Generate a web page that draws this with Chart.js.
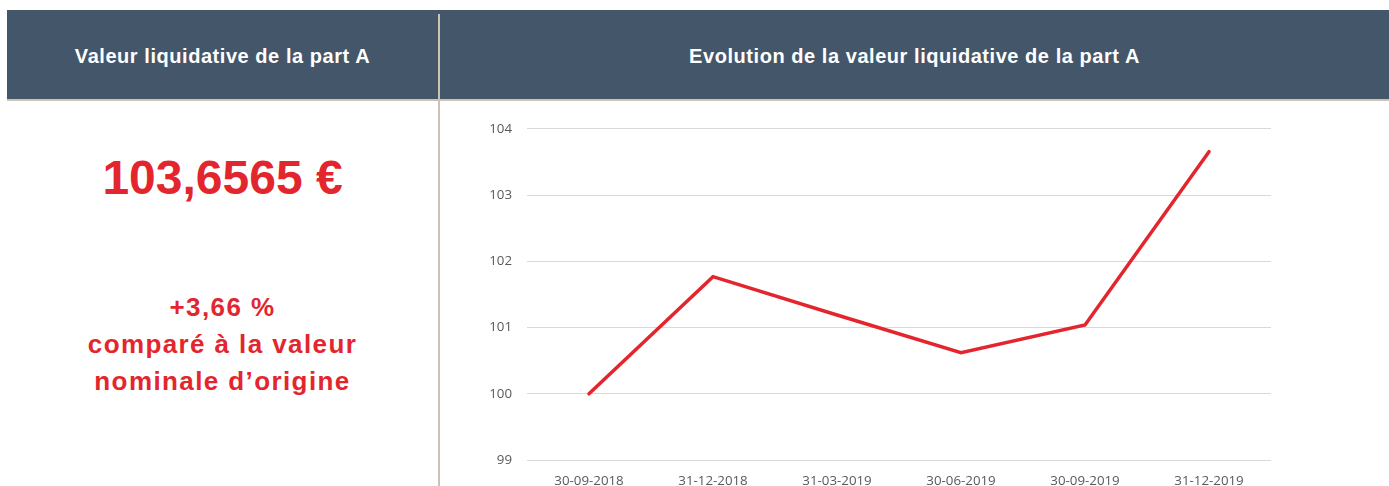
<!DOCTYPE html>
<html>
<head>
<meta charset="utf-8">
<script src="https://cdn.jsdelivr.net/npm/chart.js@4/dist/chart.umd.min.js"></script>
<style>
  html, body { margin: 0; padding: 0; background: #ffffff; }
  body { width: 1389px; height: 486px; position: relative; overflow: hidden; font-family: "Liberation Sans", Arial, sans-serif; }
  .header { position: absolute; left: 7px; top: 10px; width: 1382px; height: 89px; background: #44566a; }
  .hline { position: absolute; left: 7px; top: 99px; width: 1382px; height: 2px; background: #cbc3b4; }
  .vline { position: absolute; left: 438px; top: 14px; width: 2px; height: 472px; background: #cbc3b4; }
  .title { position: absolute; top: 46px; height: 20px; line-height: 20px; font-size: 20px; font-weight: bold; color: #ffffff; text-align: center; letter-spacing: 0.55px; white-space: nowrap; }
  .big { position: absolute; left: 7px; width: 431px; top: 154px; font-size: 48px; line-height: 48px; font-weight: bold; color: #e3262e; text-align: center; white-space: nowrap; }
  .sub { position: absolute; left: 7px; width: 431px; top: 289px; font-size: 26px; line-height: 37px; font-weight: bold; color: #e3262e; text-align: center; letter-spacing: 1.4px; white-space: nowrap; }
  #wrap { position: absolute; left: 470px; top: 106px; width: 820px; height: 380px; }
</style>
</head>
<body>
<div class="header"></div>
<div class="hline"></div>
<div class="vline"></div>
<div class="title" style="left:7px;width:431px;">Valeur liquidative de la part A</div>
<div class="title" style="left:440px;width:949px;">Evolution de la valeur liquidative de la part A</div>
<div class="big">103,6565 €</div>
<div class="sub">+3,66 %<br>comparé à la valeur<br>nominale d’origine</div>
<div id="wrap"><canvas id="c" width="820" height="380"></canvas></div>
<script>
const categories = ["30-09-2018", "31-12-2018", "31-03-2019", "30-06-2019", "30-09-2019", "31-12-2019"];
const navValues = [100.00, 101.77, 101.19, 100.62, 101.04, 103.6565];
const yMin = 99;
const yMax = 104;
const yStep = 1;

new Chart(document.getElementById('c'), {
  type: 'line',
  data: {
    labels: categories,
    datasets: [{
      data: navValues,
      borderColor: '#e3262e',
      borderWidth: 3.5,
      borderCapStyle: 'round',
      borderJoinStyle: 'miter',
      pointRadius: 0,
      pointHoverRadius: 0,
      tension: 0,
      fill: false
    }]
  },
  options: {
    responsive: false,
    animation: false,
    devicePixelRatio: 1,
    layout: { padding: { left: 0, right: 19, top: 14, bottom: 0 } },
    plugins: { legend: { display: false }, tooltip: { enabled: false } },
    scales: {
      x: {
        offset: true,
        grid: { display: false, drawTicks: false },
        border: { display: false },
        ticks: { color: '#595959', font: { family: 'Open Sans', size: 13.3 }, padding: 13, maxRotation: 0, autoSkip: false },
        afterFit: (s) => { s.height = 26; }
      },
      y: {
        min: yMin,
        max: yMax,
        grid: { color: '#d9d9d9', lineWidth: 1, drawTicks: false },
        border: { display: false },
        ticks: { stepSize: yStep, color: '#595959', font: { family: 'Open Sans', size: 13.3 }, padding: 15 },
        afterFit: (s) => { s.width = 57; }
      }
    }
  }
});
</script>
</body>
</html>
